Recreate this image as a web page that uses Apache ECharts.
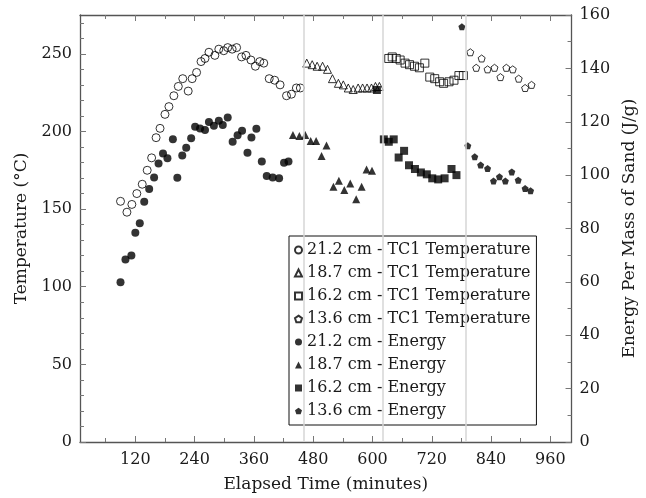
<!DOCTYPE html>
<html>
<head>
<meta charset="utf-8">
<script src="https://cdn.jsdelivr.net/npm/echarts@6/dist/echarts.min.js"></script>
<style>
  html, body { margin: 0; padding: 0; background: #fff; }
  #chart { width: 646px; height: 498px; }
</style>
</head>
<body>
<div id="chart"></div>
<script>
// Thermocouple temperatures (°C) and energy per mass of sand (J/g) vs elapsed time (min)
const tc21Time = [90,103,113,123,134,144,153,162,170,180,188,198,207,216,227,235,244,253,261,269,281,289,299,307,316,325,335,344,354,363,372,380,391,402,413,426,436,446,454];
const tc21Temp = [155,148,153,160,166,175,183,196,202,211,216,223,229,234,226,234,238,245,247,251,249,253,252,254,253,254,248,249,246,242,245,244,234,233,230,223,224,228,228];

const tc18Time = [467,478,488,499,509,519,531,541,551,561,571,580,589,598,606,614];
const tc18Temp = [244,243,242,242,240,234,231,230,228,227,228,228,228,228,229,229];

const tc16Time = [633,640,648,656,666,675,685,695,706,716,726,736,744,755,765,775,784];
const tc16Temp = [247,248,247,246,244,243,242,241,244,235,234,232,231,232,233,236,236];

const tc13Time = [798,810,821,833,847,859,871,884,896,909,922];
const tc13Temp = [251,241,247,240,241,235,241,240,234,228,230];

const en21Time = [90,100,112,120,129,138,148,158,167,176,185,196,205,215,223,233,241,251,261,269,279,289,297,307,317,327,336,347,355,365,376,386,398,411,421,430];
const en21Val = [59.9,68.4,69.9,78.4,82.0,90.0,94.8,99.1,104.4,108.1,106.3,113.4,99.0,107.4,110.3,113.8,118.1,117.5,116.9,119.9,118.5,120.4,118.8,121.6,112.5,114.9,116.6,108.4,114.1,117.4,105.1,99.7,99.1,98.8,104.6,105.1];

const en18Time = [439,452,464,475,486,497,507,521,532,543,555,567,578,588,599];
const en18Val = [115.0,114.7,115.0,112.8,112.8,107.2,111.1,95.6,97.9,94.4,96.9,91.0,95.6,102.1,101.6];

const en16Time = [609,623,633,643,653,664,674,686,698,710,721,733,746,760,770];
const en16Val = [131.9,113.4,112.5,113.4,106.6,109.1,103.7,102.3,101.0,100.3,98.8,98.4,98.8,102.3,100.0];

const en13Time = [781,793,807,819,833,845,857,869,882,895,909,920];
const en13Val = [155.6,111.0,106.9,103.8,102.5,97.8,99.4,97.8,101.2,98.1,95.0,94.1];

// Phase boundaries (min)
const phaseBreaks = [460, 620, 788];

// Tick values
const xMajorTicks = [120,240,360,480,600,720,840,960];
const xMinorTicks = [60,180,300,420,540,660,780,900];
const tempMajorTicks = [0,50,100,150,200,250];
const tempMinorTicks = [10,20,30,40,60,70,80,90,110,120,130,140,160,170,180,190,210,220,230,240,260,270];

const legendNames = [
  '21.2 cm - TC1 Temperature',
  '18.7 cm - TC1 Temperature',
  '16.2 cm - TC1 Temperature',
  '13.6 cm - TC1 Temperature',
  '21.2 cm - Energy',
  '18.7 cm - Energy',
  '16.2 cm - Energy',
  '13.6 cm - Energy'
];

const FONT = '"DejaVu Serif", "Liberation Serif", serif';
const TEXT_COLOR = '#1a1a1a';
const AXIS_COLOR = '#555';
const TICK_COLOR = '#777';
const PENTAGON = 'path://M0,-1L0.951,-0.309L0.588,0.809L-0.588,0.809L-0.951,-0.309Z';

const zip = (xs, ys) => xs.map((x, i) => [x, ys[i]]);

function openSeries(name, xs, ys, symbol, size) {
  return {
    name, type: 'scatter', xAxisIndex: 0, yAxisIndex: 0,
    data: zip(xs, ys), symbol, symbolSize: size,
    itemStyle: { color: 'rgba(255,255,255,0)', borderColor: '#000', borderWidth: 1 },
    emphasis: { disabled: true }, z: 3
  };
}
function filledSeries(name, xs, ys, symbol, size) {
  return {
    name, type: 'scatter', xAxisIndex: 0, yAxisIndex: 1,
    data: zip(xs, ys), symbol, symbolSize: size,
    itemStyle: { color: '#000', borderWidth: 0 },
    emphasis: { disabled: true }, z: 3
  };
}

const xBase = { type: 'value', min: 8, max: 1003, splitLine: { show: false } };
const tickStyle = { color: TICK_COLOR, width: 1 };
const tickFont = { fontFamily: FONT, fontSize: 16, color: TEXT_COLOR };
const titleFont = { fontFamily: FONT, fontSize: 17, color: TEXT_COLOR };

const option = {
  animation: false,
  backgroundColor: '#fff',
  grid: { left: 80, right: 70, top: 15, bottom: 56, containLabel: false },
  legend: {
    orient: 'vertical',
    left: 289, top: 236,
    padding: [4, 6, 4, 5],
    itemGap: 3,
    itemWidth: 7, itemHeight: 7,
    backgroundColor: '#fff',
    borderColor: '#111', borderWidth: 1,
    borderRadius: 0,
    selectedMode: false,
    textStyle: { fontFamily: FONT, fontSize: 16, color: TEXT_COLOR, lineHeight: 20 },
    data: legendNames
  },
  xAxis: [
    Object.assign({}, xBase, {
      position: 'bottom',
      name: 'Elapsed Time (minutes)', nameLocation: 'middle', nameGap: 34,
      nameTextStyle: titleFont,
      axisLine: { show: true, onZero: false, lineStyle: { color: AXIS_COLOR, width: 1.3 } },
      axisTick: { show: true, inside: true, length: 6, customValues: xMajorTicks, lineStyle: tickStyle },
      axisLabel: Object.assign({ customValues: xMajorTicks, margin: 10 }, tickFont)
    }),
    Object.assign({}, xBase, {
      position: 'bottom',
      axisLine: { show: false, onZero: false },
      axisTick: { show: true, inside: true, length: 4, customValues: xMinorTicks, lineStyle: tickStyle },
      axisLabel: { show: false }
    }),
    Object.assign({}, xBase, {
      position: 'top',
      axisLine: { show: true, onZero: false, lineStyle: { color: AXIS_COLOR, width: 1.3 } },
      axisTick: { show: true, inside: true, length: 6, customValues: xMajorTicks, lineStyle: tickStyle },
      axisLabel: { show: false }
    }),
    Object.assign({}, xBase, {
      position: 'top',
      axisLine: { show: false, onZero: false },
      axisTick: { show: true, inside: true, length: 4, customValues: xMinorTicks, lineStyle: tickStyle },
      axisLabel: { show: false }
    })
  ],
  yAxis: [
    {
      type: 'value', min: 0, max: 275, position: 'left',
      name: 'Temperature (°C)', nameLocation: 'middle', nameGap: 50, nameRotate: 90,
      nameTextStyle: titleFont,
      axisLine: { show: true, onZero: false, lineStyle: { color: AXIS_COLOR, width: 1.3 } },
      axisTick: { show: true, inside: true, length: 6, customValues: tempMajorTicks, lineStyle: tickStyle },
      axisLabel: Object.assign({ customValues: tempMajorTicks, margin: 8 }, tickFont),
      splitLine: { show: false }
    },
    {
      type: 'value', min: 0, max: 160, interval: 20, position: 'right',
      name: 'Energy Per Mass of Sand (J/g)', nameLocation: 'middle', nameGap: 43, nameRotate: 90,
      nameTextStyle: titleFont,
      axisLine: { show: true, onZero: false, lineStyle: { color: AXIS_COLOR, width: 1.3 } },
      axisTick: { show: true, inside: true, length: 6, lineStyle: tickStyle },
      minorTick: { show: true, splitNumber: 2, length: 4, lineStyle: tickStyle },
      axisLabel: Object.assign({ margin: 8 }, tickFont),
      splitLine: { show: false }, minorSplitLine: { show: false }
    },
    {
      type: 'value', min: 0, max: 275, position: 'left',
      axisLine: { show: false, onZero: false },
      axisTick: { show: true, inside: true, length: 4, customValues: tempMinorTicks, lineStyle: tickStyle },
      axisLabel: { show: false },
      splitLine: { show: false }
    }
  ],
  series: [
    Object.assign(openSeries(legendNames[0], tc21Time, tc21Temp, 'circle', 8), {
      markLine: {
        silent: true, symbol: 'none', label: { show: false },
        lineStyle: { color: '#d6d6d6', width: 1.5, type: 'solid' },
        data: phaseBreaks.map(v => ({ xAxis: v }))
      }
    }),
    openSeries(legendNames[1], tc18Time, tc18Temp, 'triangle', 8),
    openSeries(legendNames[2], tc16Time, tc16Temp, 'rect', 8),
    openSeries(legendNames[3], tc13Time, tc13Temp, PENTAGON, 7),
    filledSeries(legendNames[4], en21Time, en21Val, 'circle', 8),
    filledSeries(legendNames[5], en18Time, en18Val, 'triangle', 8),
    filledSeries(legendNames[6], en16Time, en16Val, 'rect', 8),
    filledSeries(legendNames[7], en13Time, en13Val, PENTAGON, 7)
  ]
};

const chart = echarts.init(document.getElementById('chart'), null, { renderer: 'canvas' });
chart.setOption(option);
</script>
</body>
</html>
